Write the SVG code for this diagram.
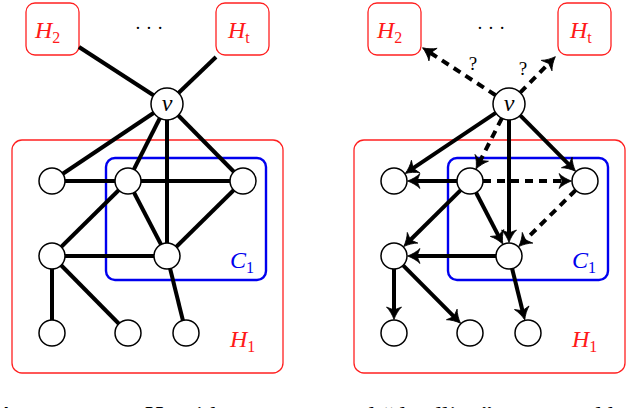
<svg xmlns="http://www.w3.org/2000/svg" width="640" height="408" viewBox="0 0 640 408">
<style>
.hbox{fill:none;stroke:#ff2020;stroke-width:1.3}
.cbox{fill:none;stroke:#0000ee;stroke-width:2.4}
.e{stroke:#000;stroke-width:4;fill:none}
.d{stroke:#000;stroke-width:4;fill:none;stroke-dasharray:8 6}
.a{marker-end:url(#arr)}
.n{fill:#fff;stroke:#000;stroke-width:1.5}
text{font-family:"Liberation Serif","Times New Roman",serif}
.lbl{font-size:24px}
.it{font-style:italic}
.red{fill:#ff1a1a}
.blue{fill:#0000ee}
.sub{font-size:16px;font-style:normal}
.q{font-size:19px;fill:#000}
</style>
<defs>
<marker id="arr" markerUnits="userSpaceOnUse" viewBox="-10 -10 20 20" markerWidth="20" markerHeight="20" refX="0" refY="0" orient="auto" overflow="visible">
<path d="M6.5,0 C2,-1.5 -3,-4.5 -6,-7.5 L-3,0 L-6,7.5 C-3,4.5 2,1.5 6.5,0 Z" fill="#000" stroke="#000" stroke-width="0.8" stroke-linejoin="round"/>
</marker>
</defs>

<!-- LEFT PANEL -->
<g id="L-H1box"><rect class="hbox" x="12" y="140" width="271" height="233" rx="10"/><text class="lbl it red" x="230" y="347">H<tspan class="sub" dy="5">1</tspan></text></g>
<g id="L-C1box"><rect class="cbox" x="106" y="158" width="160" height="122" rx="9"/><text class="lbl it blue" x="230" y="268">C<tspan class="sub" dy="5">1</tspan></text></g>
<g id="L-H2"><rect class="hbox" x="26" y="3" width="53" height="52" rx="9"/><text class="lbl it red" x="35" y="38">H<tspan class="sub" dy="5">2</tspan></text></g>
<g id="L-Ht"><rect class="hbox" x="216" y="3" width="53" height="52" rx="9"/><text class="lbl it red" x="228" y="38">H<tspan class="sub it" dy="5">t</tspan></text></g>
<g id="L-dots"><text class="q" x="149" y="34" text-anchor="middle">· · ·</text></g>

<g id="L-edges">
<line class="e" x1="79" y1="47" x2="167" y2="104"/>
<line class="e" x1="216" y1="57" x2="167" y2="104"/>
<line class="e" x1="167" y1="104" x2="52" y2="181"/>
<line class="e" x1="167" y1="104" x2="128" y2="181"/>
<line class="e" x1="167" y1="104" x2="167" y2="256"/>
<line class="e" x1="167" y1="104" x2="243" y2="181"/>
<line class="e" x1="52" y1="181" x2="243" y2="181"/>
<line class="e" x1="128" y1="181" x2="52" y2="256"/>
<line class="e" x1="128" y1="181" x2="167" y2="256"/>
<line class="e" x1="243" y1="181" x2="167" y2="256"/>
<line class="e" x1="52" y1="256" x2="167" y2="256"/>
<line class="e" x1="52" y1="256" x2="52" y2="333"/>
<line class="e" x1="52" y1="256" x2="128" y2="333"/>
<line class="e" x1="167" y1="256" x2="186" y2="333"/>
</g>
<g id="L-v"><circle class="n" cx="167" cy="104" r="16"/><text class="lbl it" x="167" y="111" text-anchor="middle">v</text></g>
<g id="L-a"><circle class="n" cx="52" cy="181" r="13"/></g>
<g id="L-b"><circle class="n" cx="128" cy="181" r="13"/></g>
<g id="L-c"><circle class="n" cx="243" cy="181" r="13"/></g>
<g id="L-d"><circle class="n" cx="52" cy="256" r="13"/></g>
<g id="L-e"><circle class="n" cx="167" cy="256" r="13"/></g>
<g id="L-f"><circle class="n" cx="52" cy="333" r="13"/></g>
<g id="L-g"><circle class="n" cx="128" cy="333" r="13"/></g>
<g id="L-h"><circle class="n" cx="186" cy="333" r="13"/></g>

<!-- RIGHT PANEL -->
<g id="R-H1box"><rect class="hbox" x="354" y="140" width="271" height="233" rx="10"/><text class="lbl it red" x="572" y="347">H<tspan class="sub" dy="5">1</tspan></text></g>
<g id="R-C1box"><rect class="cbox" x="448" y="158" width="160" height="122" rx="9"/><text class="lbl it blue" x="572" y="268">C<tspan class="sub" dy="5">1</tspan></text></g>
<g id="R-H2"><rect class="hbox" x="368" y="3" width="53" height="52" rx="9"/><text class="lbl it red" x="377" y="38">H<tspan class="sub" dy="5">2</tspan></text></g>
<g id="R-Ht"><rect class="hbox" x="558" y="3" width="53" height="52" rx="9"/><text class="lbl it red" x="570" y="38">H<tspan class="sub it" dy="5">t</tspan></text></g>
<g id="R-dots"><text class="q" x="491" y="34" text-anchor="middle">· · ·</text></g>

<g id="R-edges">
<line class="d a" x1="495.6" y1="95.3" x2="428" y2="51.3"/>
<line class="d a" x1="520.2" y1="92.6" x2="550.8" y2="61.3"/>
<line class="e a" x1="495.7" y1="112.9" x2="410.6" y2="169.9"/>
<line class="d a" x1="501.8" y1="118.3" x2="479" y2="163.2"/>
<line class="e a" x1="509" y1="120" x2="509" y2="236"/>
<line class="e a" x1="520.2" y1="115.4" x2="571" y2="166.7"/>
<line class="e a" x1="457" y1="181" x2="414" y2="181"/>
<line class="d a" x1="483" y1="181" x2="565" y2="181"/>
<line class="d a" x1="575.7" y1="190.1" x2="523.3" y2="242"/>
<line class="e a" x1="476" y1="192.5" x2="499.8" y2="238.3"/>
<line class="e a" x1="460.7" y1="190.1" x2="408.3" y2="242"/>
<line class="e a" x1="496" y1="256" x2="414" y2="256"/>
<line class="e a" x1="394" y1="269" x2="394" y2="313"/>
<line class="e a" x1="403.1" y1="265.3" x2="456" y2="318.7"/>
<line class="e a" x1="512.1" y1="268.6" x2="523.2" y2="313.6"/>
<text class="q" x="473" y="70" text-anchor="middle">?</text>
<text class="q" x="523" y="75" text-anchor="middle">?</text>
</g>
<g id="R-v"><circle class="n" cx="509" cy="104" r="16"/><text class="lbl it" x="509" y="111" text-anchor="middle">v</text></g>
<g id="R-a"><circle class="n" cx="394" cy="181" r="13"/></g>
<g id="R-b"><circle class="n" cx="470" cy="181" r="13"/></g>
<g id="R-c"><circle class="n" cx="585" cy="181" r="13"/></g>
<g id="R-d"><circle class="n" cx="394" cy="256" r="13"/></g>
<g id="R-e"><circle class="n" cx="509" cy="256" r="13"/></g>
<g id="R-f"><circle class="n" cx="394" cy="333" r="13"/></g>
<g id="R-g"><circle class="n" cx="470" cy="333" r="13"/></g>
<g id="R-h"><circle class="n" cx="528" cy="333" r="13"/></g>

<g id="caption"><text x="-3" y="424" style="font-size:26px" fill="#000">A component <tspan font-style="italic">H</tspan><tspan font-size="18" dy="4">1</tspan><tspan dy="-4"> with a vertex </tspan><tspan font-style="italic">v</tspan> and “deadline” computed by</text></g>
</svg>
